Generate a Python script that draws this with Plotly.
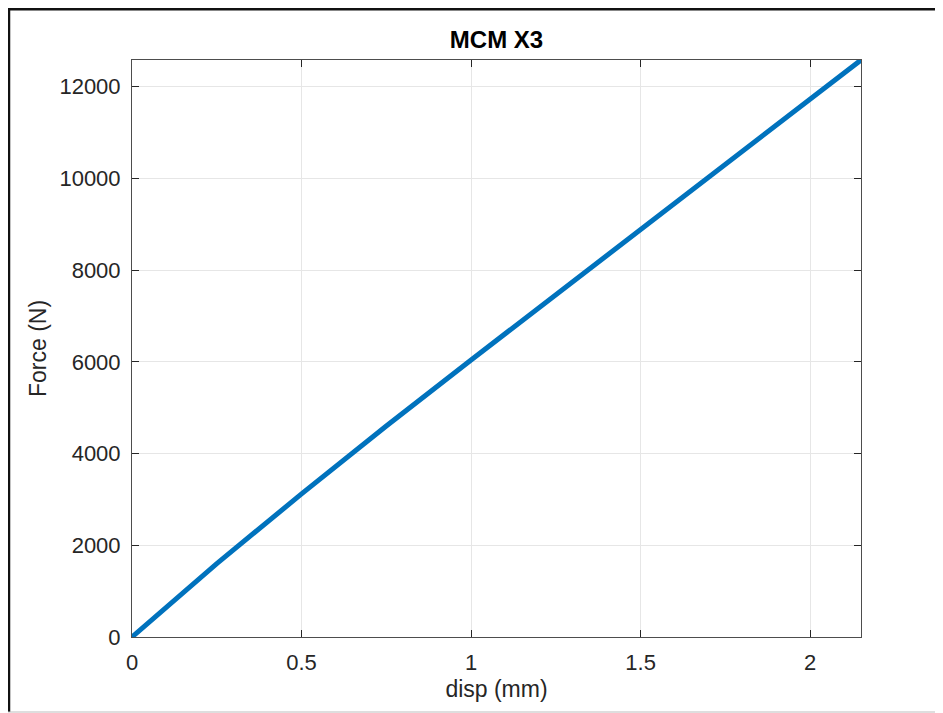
import plotly.graph_objects as go

# Data
disp_mm = [0.0, 0.25, 0.5, 0.75, 1.0, 1.25, 1.5, 1.75, 2.0, 2.15]
force_n = [0, 1600, 3120, 4600, 6040, 7460, 8870, 10290, 11710, 12580]
x_ticks = [0, 0.5, 1, 1.5, 2]
x_tick_labels = ["0", "0.5", "1", "1.5", "2"]
y_ticks = [0, 2000, 4000, 6000, 8000, 10000, 12000]
y_tick_labels = ["0", "2000", "4000", "6000", "8000", "10000", "12000"]

# page offset of 8px (body margin) taken into account
OFF = 8
W, H = 943 - OFF, 713 - OFF
L, T = 132 - OFF, 60 - OFF
R = W - (861 - OFF)
B = H - (637 - OFF)
pw, ph = W - L - R, H - T - B

def px(xpage):
    return (xpage - OFF - L) / pw

def py(ypage):
    return (H - B - (ypage - OFF)) / ph

FONT = "Liberation Sans, Arial, Helvetica, sans-serif"
TXT = "#262626"

fig = go.Figure()
fig.add_trace(go.Scatter(
    x=disp_mm, y=force_n, mode="lines",
    line=dict(color="#0072BD", width=5),
    showlegend=False, hoverinfo="skip",
))

axis_common = dict(
    showline=True, linecolor="#4d4d4d", linewidth=1, mirror="ticks",
    ticks="inside", ticklen=7, tickcolor="#262626", tickwidth=1,
    showgrid=True, gridcolor="#e6e6e6", gridwidth=1,
    zeroline=False,
    tickfont=dict(family=FONT, size=22, color=TXT),
)

fig.update_xaxes(
    range=[0, 2.15], tickvals=x_ticks, ticktext=x_tick_labels,
    ticklabelstandoff=6,
    title=dict(text="disp (mm)", font=dict(family=FONT, size=23, color=TXT), standoff=6),
    **axis_common,
)
fig.update_yaxes(
    range=[0, 12580], tickvals=y_ticks, ticktext=y_tick_labels,
    ticklabelstandoff=6,
    title=dict(text="Force (N)", font=dict(family=FONT, size=23, color=TXT), standoff=6),
    **axis_common,
)

shapes = [
    dict(type="line", xref="paper", yref="paper", x0=px(8), x1=px(943 + 5), y0=py(9), y1=py(9),
         line=dict(color="#111111", width=3)),
    dict(type="line", xref="paper", yref="paper", x0=px(9), x1=px(9), y0=py(8), y1=py(712),
         line=dict(color="#111111", width=2.5)),
    dict(type="line", xref="paper", yref="paper", x0=px(8), x1=px(943 + 5), y0=py(712), y1=py(712),
         line=dict(color="#bdbdbd", width=1)),
]

fig.update_layout(
    width=W, height=H,
    margin=dict(l=L, r=R, t=T, b=B, pad=0),
    paper_bgcolor="white", plot_bgcolor="white",
    title=dict(text="<b>MCM X3</b>", x=0.5, xref="paper", xanchor="center",
               y=1 - (40 - OFF) / H, yanchor="middle",
               font=dict(family=FONT, size=24, color="#000000")),
    shapes=shapes,
)

fig.write_html("out.html")
